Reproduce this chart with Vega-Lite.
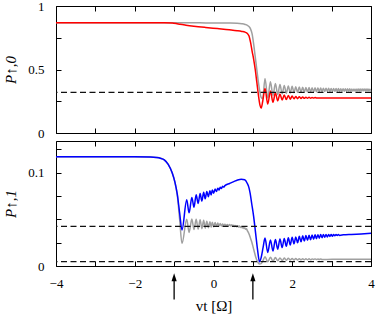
{
"$schema": "https://vega.github.io/schema/vega-lite/v6.json",
"autosize": {"type": "none"},
"padding": {"left": 56, "top": 6, "right": 320, "bottom": 310},
"background": "white",
"spacing": 8,
"bounds": "flush",
"config": {
 "font": "Liberation Serif, DejaVu Serif, Times New Roman, serif",
 "view": {"stroke": "black", "strokeWidth": 1},
 "axis": {"domain": false, "grid": false, "ticks": true, "tickSize": -5, "tickColor": "black", "tickWidth": 1, "labelFont": "Liberation Serif, DejaVu Serif, Times New Roman, serif", "labelFontSize": 13, "labelColor": "black", "labelFlush": false, "labelOverlap": false, "titleFont": "Liberation Serif, DejaVu Serif, Times New Roman, serif", "titleFontSize": 15, "titleColor": "black", "titleFontWeight": "normal"}
},
"datasets": {
 "top": [
  {"t":-4,"g":0.868,"c":0.868},{"t":-2,"g":0.868,"c":0.868},{"t":-1.25,"g":0.868,"c":0.868},{"t":-1.05,"g":0.868,"c":0.866},{"t":-0.95,"g":0.868,"c":0.862},{"t":-0.85,"g":0.868,"c":0.856},{"t":-0.7,"g":0.868,"c":0.849},{"t":-0.5,"g":0.868,"c":0.841},{"t":-0.2,"g":0.867,"c":0.831},{"t":0.1,"g":0.867,"c":0.822},{"t":0.4,"g":0.866,"c":0.813},{"t":0.6,"g":0.864,"c":0.806},{"t":0.72,"g":0.86,"c":0.8},{"t":0.8,"g":0.855,"c":0.794},{"t":0.86,"g":0.848,"c":0.784},{"t":0.9,"g":0.838,"c":0.765},{"t":0.94,"g":0.82,"c":0.715},{"t":0.98,"g":0.78,"c":0.645},{"t":1.02,"g":0.7,"c":0.58},{"t":1.06,"g":0.6,"c":0.5},{"t":1.1,"g":0.5,"c":0.4},{"t":1.14,"g":0.4,"c":0.3},{"t":1.18,"g":0.32,"c":0.22},{"t":1.21,"g":0.28,"c":0.196},{"t":1.25,"g":0.27,"c":0.25},
  {"t":1.308,"g":0.43,"c":0.35},{"t":1.378,"g":0.275,"c":0.228},{"t":1.446,"g":0.403,"c":0.331},{"t":1.51,"g":0.295,"c":0.242},{"t":1.572,"g":0.39,"c":0.317},{"t":1.631,"g":0.302,"c":0.253},{"t":1.688,"g":0.381,"c":0.307},{"t":1.744,"g":0.308,"c":0.26},{"t":1.797,"g":0.375,"c":0.3},{"t":1.849,"g":0.312,"c":0.2635},{"t":1.9,"g":0.371,"c":0.2955},{"t":1.949,"g":0.315,"c":0.2665},{"t":1.997,"g":0.368,"c":0.2905},{"t":2.045,"g":0.317,"c":0.2688},{"t":2.09,"g":0.365,"c":0.2875},{"t":2.135,"g":0.319,"c":0.2705},{"t":2.179,"g":0.363,"c":0.2853},{"t":2.223,"g":0.32,"c":0.2718},{"t":2.265,"g":0.361,"c":0.2835},{"t":2.307,"g":0.321,"c":0.2727},{"t":2.347,"g":0.359,"c":0.2822},{"t":2.387,"g":0.322,"c":0.2736},{"t":2.427,"g":0.358,"c":0.2809},{"t":2.466,"g":0.323,"c":0.2743},{"t":2.504,"g":0.357,"c":0.2799},{"t":2.542,"g":0.324,"c":0.275},{"t":2.579,"g":0.356,"c":0.2791},{"t":2.615,"g":0.325,"c":0.2757},
  {"t":2.651,"g":0.355},{"t":2.687,"g":0.3255},{"t":2.722,"g":0.354},{"t":2.757,"g":0.326},{"t":2.791,"g":0.353},{"t":2.825,"g":0.3265},{"t":2.858,"g":0.352},{"t":2.891,"g":0.327},{"t":2.924,"g":0.3515},{"t":2.956,"g":0.3273},{"t":2.988,"g":0.351},{"t":3.02,"g":0.3276,"c":0.2762},{"t":3.051,"g":0.3505},{"t":3.082,"g":0.328},{"t":3.113,"g":0.35},{"t":3.143,"g":0.3283},{"t":3.173,"g":0.3495},{"t":3.203,"g":0.3286},{"t":3.233,"g":0.349},{"t":3.262,"g":0.329},{"t":3.291,"g":0.3486},{"t":3.32,"g":0.3293},{"t":3.348,"g":0.3483},{"t":3.376,"g":0.3296},{"t":3.404,"g":0.348},{"t":3.432,"g":0.33},{"t":3.46,"g":0.3477},{"t":3.487,"g":0.3302},{"t":3.514,"g":0.3474},{"t":3.541,"g":0.3305},{"t":3.568,"g":0.3471},{"t":3.594,"g":0.3307},{"t":3.621,"g":0.3469},{"t":3.647,"g":0.331},{"t":3.673,"g":0.3466},{"t":3.699,"g":0.3312},{"t":3.724,"g":0.3464},{"t":3.75,"g":0.3314},{"t":3.775,"g":0.3462},{"t":3.8,"g":0.3316},{"t":3.825,"g":0.346},{"t":3.85,"g":0.3318},{"t":3.874,"g":0.3458},{"t":3.899,"g":0.332},{"t":3.923,"g":0.3456},{"t":3.947,"g":0.3322},{"t":3.971,"g":0.3454},{"t":3.995,"g":0.3324},{"t":4,"g":0.334,"c":0.2757}
 ],
 "hTop": [{"h":0.32}],
 "bot": [
  {"t":-4,"g":0.117,"c":0.117},{"t":-2,"g":0.117,"c":0.117},{"t":-1.6,"g":0.1168,"c":0.1168},{"t":-1.45,"g":0.1163,"c":0.1163},{"t":-1.35,"g":0.1155,"c":0.1155},{"t":-1.25,"g":0.1138,"c":0.1138},{"t":-1.15,"g":0.109,"c":0.109},{"t":-1.05,"g":0.1,"c":0.1},{"t":-0.98,"g":0.09,"c":0.09},{"t":-0.92,"g":0.076,"c":0.077},{"t":-0.86,"g":0.05,"c":0.057},{"t":-0.8,"g":0.024,"c":0.0386},
  {"t":-0.68,"g":0.05,"c":0.071},{"t":-0.62,"g":0.036,"c":0.057},{"t":-0.55,"g":0.0505,"c":0.0735},{"t":-0.495,"g":0.039,"c":0.063},{"t":-0.44,"g":0.05,"c":0.0765},{"t":-0.39,"g":0.0395,"c":0.067},{"t":-0.34,"g":0.0495,"c":0.0777},{"t":-0.295,"g":0.04,"c":0.0696},{"t":-0.25,"g":0.049,"c":0.079},{"t":-0.21,"g":0.0405,"c":0.072},{"t":-0.17,"g":0.048,"c":0.0799},{"t":-0.13,"g":0.041,"c":0.0743},{"t":-0.09,"g":0.0475,"c":0.0808},{"t":-0.06,"g":0.0415,"c":0.0762},{"t":-0.03,"g":0.047,"c":0.0816},{"t":0.005,"g":0.042,"c":0.078},{"t":0.04,"g":0.0465,"c":0.0825},{"t":0.075,"g":0.0425,"c":0.0798},{"t":0.11,"g":0.046,"c":0.0834},{"t":0.14,"g":0.0428,"c":0.0815},{"t":0.17,"g":0.0455,"c":0.0843},{"t":0.2,"g":0.043,"c":0.0831},{"t":0.23,"g":0.045,"c":0.0854},{"t":0.26,"g":0.0432,"c":0.0846},
  {"t":0.29,"g":0.0448,"c":0.0862},{"t":0.32,"g":0.0431},{"t":0.35,"g":0.0446},{"t":0.38,"g":0.043},{"t":0.41,"g":0.0444,"c":0.0885},{"t":0.44,"g":0.0428},{"t":0.465,"g":0.0441},{"t":0.49,"g":0.0426},{"t":0.515,"g":0.0438,"c":0.0905},{"t":0.54,"g":0.0423},{"t":0.565,"g":0.0435},{"t":0.59,"g":0.042},{"t":0.613,"g":0.0432,"c":0.0922},{"t":0.636,"g":0.0417},{"t":0.659,"g":0.0428},{"t":0.682,"g":0.0413},{"t":0.705,"g":0.0423,"c":0.093},{"t":0.727,"g":0.0408},{"t":0.749,"g":0.0417},{"t":0.771,"g":0.0402},{"t":0.793,"g":0.0409,"c":0.0924},{"t":0.815,"g":0.0394},{"t":0.837,"g":0.0398},{"t":0.859,"g":0.038,"c":0.0885},
  {"t":0.9,"g":0.0345,"c":0.084},{"t":0.93,"g":0.031,"c":0.078},{"t":0.97,"g":0.026,"c":0.067},{"t":1.02,"g":0.018,"c":0.053},{"t":1.07,"g":0.01,"c":0.035},{"t":1.12,"g":0.0045,"c":0.017},{"t":1.17,"g":0.0022,"c":0.0045},{"t":1.21,"g":0.0025,"c":0.009},{"t":1.26,"g":0.006,"c":0.02},
  {"t":1.308,"g":0.01,"c":0.03},{"t":1.378,"g":0.0045,"c":0.0145},{"t":1.446,"g":0.0095,"c":0.028},{"t":1.51,"g":0.0052,"c":0.016},{"t":1.572,"g":0.009,"c":0.0283},{"t":1.631,"g":0.0056,"c":0.018},{"t":1.688,"g":0.0087,"c":0.029},{"t":1.744,"g":0.0059,"c":0.0197},{"t":1.797,"g":0.0085,"c":0.0296},{"t":1.849,"g":0.0061,"c":0.0211},{"t":1.9,"g":0.0083,"c":0.0302},{"t":1.949,"g":0.0063,"c":0.0225},{"t":1.997,"g":0.0081,"c":0.0308},{"t":2.045,"g":0.0064,"c":0.0238},{"t":2.09,"g":0.008,"c":0.0312},{"t":2.135,"g":0.0065,"c":0.0249},{"t":2.179,"g":0.0079,"c":0.0318},{"t":2.223,"g":0.0066,"c":0.0259},{"t":2.265,"g":0.0078,"c":0.0323},{"t":2.307,"g":0.0067,"c":0.0267},{"t":2.347,"g":0.0077,"c":0.0327},{"t":2.387,"g":0.0068,"c":0.0275},{"t":2.427,"g":0.0077,"c":0.033},{"t":2.466,"g":0.0068,"c":0.0281},{"t":2.504,"g":0.0076,"c":0.0332},{"t":2.542,"g":0.0069,"c":0.0287},{"t":2.579,"g":0.0076,"c":0.0334},{"t":2.615,"g":0.0069,"c":0.0293},{"t":2.651,"g":0.0075,"c":0.0336},{"t":2.687,"g":0.007,"c":0.0298},{"t":2.722,"g":0.0075,"c":0.0337},{"t":2.757,"g":0.007,"c":0.0303},
  {"t":2.791,"c":0.0338},{"t":2.825,"c":0.0308},{"t":2.858,"c":0.0338},{"t":2.891,"c":0.0312},{"t":2.924,"c":0.0338},{"t":2.956,"c":0.0316},{"t":2.988,"c":0.0338},{"t":3.02,"g":0.0072,"c":0.032},{"t":3.051,"c":0.0338},{"t":3.082,"c":0.0323},{"t":3.113,"c":0.0337},{"t":3.143,"c":0.0326},{"t":3.173,"c":0.0337},{"t":3.203,"c":0.0328},{"t":3.3,"c":0.0334},{"t":3.5,"c":0.0339},{"t":3.75,"c":0.0344},{"t":4,"g":0.0072,"c":0.035}
 ],
 "hBot": [{"h":0.0425},{"h":0.0046}],
 "arrows": [{"t":-1,"lo":-0.0359,"hi":-0.0121},{"t":1,"lo":-0.0359,"hi":-0.0121}]
},
"vconcat": [
 {
  "width": 315, "height": 127,
  "layer": [
   {"data": {"name": "top"}, "transform": [{"filter": "isValid(datum.g)"}],
    "mark": {"type": "line", "color": "#a0a0a0", "strokeWidth": 1.5, "interpolate": "monotone"},
    "encoding": {
     "x": {"field": "t", "type": "quantitative", "scale": {"domain": [-4, 4], "nice": false, "zero": false}, "axis": {"orient": "bottom", "values": [-4,-3,-2,-1,0,1,2,3,4], "labels": false, "title": null}},
     "y": {"field": "g", "type": "quantitative", "scale": {"domain": [0, 1], "nice": false, "zero": false}, "axis": {"orient": "left", "values": [0,0.25,0.5,0.75,1], "format": "~g", "labelExpr": "datum.value==0.25||datum.value==0.75?'':datum.label", "labelPadding": 17, "title": "P↑,0", "titlePadding": 9, "titleFontStyle": "italic"}}
    }},
   {"data": {"name": "top"}, "transform": [{"filter": "isValid(datum.c)"}],
    "mark": {"type": "line", "color": "#ff0000", "strokeWidth": 1.5, "interpolate": "monotone"},
    "encoding": {
     "x": {"field": "t", "type": "quantitative", "scale": {"domain": [-4, 4], "nice": false, "zero": false}, "axis": null},
     "y": {"field": "c", "type": "quantitative", "scale": {"domain": [0, 1], "nice": false, "zero": false}, "axis": null}
    }},
   {"data": {"name": "hTop"},
    "mark": {"type": "rule", "color": "#111111", "strokeDash": [6, 3.5], "strokeWidth": 1.2},
    "encoding": {
     "y": {"field": "h", "type": "quantitative", "scale": {"domain": [0, 1], "nice": false, "zero": false}, "axis": null}
    }},
   {"data": {"name": "top"}, "transform": [{"filter": "isValid(datum.g)"}],
    "mark": {"type": "line", "opacity": 0},
    "encoding": {
     "x": {"field": "t", "type": "quantitative", "scale": {"domain": [-4, 4], "nice": false, "zero": false}, "axis": {"orient": "top", "values": [-4,-3,-2,-1,0,1,2,3,4], "labels": false, "title": null}},
     "y": {"field": "g", "type": "quantitative", "scale": {"domain": [0, 1], "nice": false, "zero": false}, "axis": {"orient": "right", "values": [0,0.25,0.5,0.75,1], "labels": false, "title": null}}
    }}
  ]
 },
 {
  "width": 315, "height": 125,
  "layer": [
   {"data": {"name": "bot"}, "transform": [{"filter": "isValid(datum.g)"}],
    "mark": {"type": "line", "color": "#a0a0a0", "strokeWidth": 1.5, "interpolate": "monotone"},
    "encoding": {
     "x": {"field": "t", "type": "quantitative", "scale": {"domain": [-4, 4], "nice": false, "zero": false}, "axis": {"orient": "bottom", "values": [-4,-3,-2,-1,0,1,2,3,4], "format": "~g", "labelExpr": "datum.value%2==0?datum.label:''", "labelPadding": 16.5, "title": "vt [Ω]", "titlePadding": 8}},
     "y": {"field": "g", "type": "quantitative", "scale": {"domain": [0, 0.134], "nice": false, "zero": false}, "axis": {"orient": "left", "values": [0,0.025,0.05,0.075,0.1,0.125], "format": "~g", "labelExpr": "datum.value==0||datum.value==0.1?datum.label:''", "labelPadding": 17, "title": "P↑,1", "titlePadding": 9, "titleFontStyle": "italic"}}
    }},
   {"data": {"name": "bot"}, "transform": [{"filter": "isValid(datum.c)"}],
    "mark": {"type": "line", "color": "#0000ff", "strokeWidth": 1.5, "interpolate": "monotone"},
    "encoding": {
     "x": {"field": "t", "type": "quantitative", "scale": {"domain": [-4, 4], "nice": false, "zero": false}, "axis": null},
     "y": {"field": "c", "type": "quantitative", "scale": {"domain": [0, 0.134], "nice": false, "zero": false}, "axis": null}
    }},
   {"data": {"name": "hBot"},
    "mark": {"type": "rule", "color": "#111111", "strokeDash": [6, 3.5], "strokeWidth": 1.2},
    "encoding": {
     "y": {"field": "h", "type": "quantitative", "scale": {"domain": [0, 0.134], "nice": false, "zero": false}, "axis": null}
    }},
   {"data": {"name": "arrows"},
    "mark": {"type": "rule", "color": "black", "strokeWidth": 1.3},
    "encoding": {
     "x": {"field": "t", "type": "quantitative", "scale": {"domain": [-4, 4], "nice": false, "zero": false}, "axis": null},
     "y": {"field": "lo", "type": "quantitative", "scale": {"domain": [0, 0.134], "nice": false, "zero": false}, "axis": null},
     "y2": {"field": "hi"}
    }},
   {"data": {"name": "arrows"},
    "mark": {"type": "point", "shape": "M0,-1L-0.65,1L0.65,1Z", "filled": true, "color": "black", "opacity": 1, "size": 64},
    "encoding": {
     "x": {"field": "t", "type": "quantitative", "scale": {"domain": [-4, 4], "nice": false, "zero": false}, "axis": null},
     "y": {"field": "hi", "type": "quantitative", "scale": {"domain": [0, 0.134], "nice": false, "zero": false}, "axis": null}
    }},
   {"data": {"name": "bot"}, "transform": [{"filter": "isValid(datum.g)"}],
    "mark": {"type": "line", "opacity": 0},
    "encoding": {
     "x": {"field": "t", "type": "quantitative", "scale": {"domain": [-4, 4], "nice": false, "zero": false}, "axis": {"orient": "top", "values": [-4,-3,-2,-1,0,1,2,3,4], "labels": false, "title": null}},
     "y": {"field": "g", "type": "quantitative", "scale": {"domain": [0, 0.134], "nice": false, "zero": false}, "axis": {"orient": "right", "values": [0,0.025,0.05,0.075,0.1,0.125], "labels": false, "title": null}}
    }}
  ]
 }
]
}
